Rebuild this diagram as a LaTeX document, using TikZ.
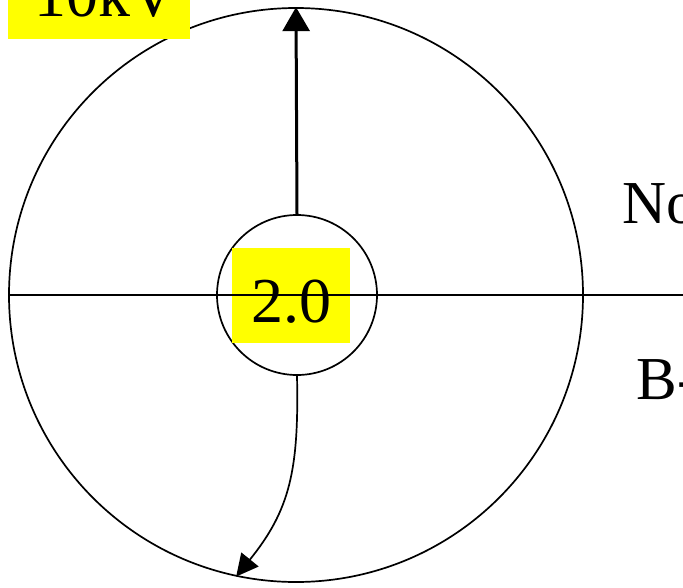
\documentclass[tikz,border=0pt]{standalone}
\usepackage{fontspec}
\setmainfont{Liberation Serif}
\usetikzlibrary{arrows.meta, positioning, shapes.geometric}
\definecolor{cyellow}{HTML}{FFFF00}
\tikzset{
  every picture/.style={x=1pt, y=-1pt, line width=1.7pt},
  ring/.style={draw, circle, inner sep=0pt, minimum size=#1},
  tag/.style={fill=cyellow, inner sep=0pt, align=center, font=\fontsize{64}{70}\selectfont},
  side/.style={anchor=base west, inner sep=0pt, font=\fontsize{61}{66}\selectfont},
  arrow/.style={-{Triangle[length=24pt, width=27pt]}},
}

\begin{document}
\begin{tikzpicture}
  \useasboundingbox (0,0) rectangle (683,587);

  % ---- circles
  \node[ring=574] (outer) at (296,295) {};
  \node[ring=160] (inner) at (297,295) {};

  % ---- labels
  \node[tag, anchor=base, minimum width=182, text height=70, text depth=23] (volt) at (99,16) {\hspace*{14pt}10kV};
  \node[tag, anchor=base, minimum width=118, text height=74, text depth=21] (val) at (291,322) {2.0};
  \node[side] (north) at (622,223) {No};
  \node[side] (south) at (636,399) {B-};

  % ---- axis and arrows
  \coordinate (rim) at (683,295);
  \draw (outer.west) -- (rim);
  \draw[arrow, line width=3pt] (inner.north) -- (outer.north);
  \draw[-{Triangle[length=22pt, width=22pt]}] (inner.south) .. controls (299,470) and (290,510) .. (outer.258);
\end{tikzpicture}
\end{document}
